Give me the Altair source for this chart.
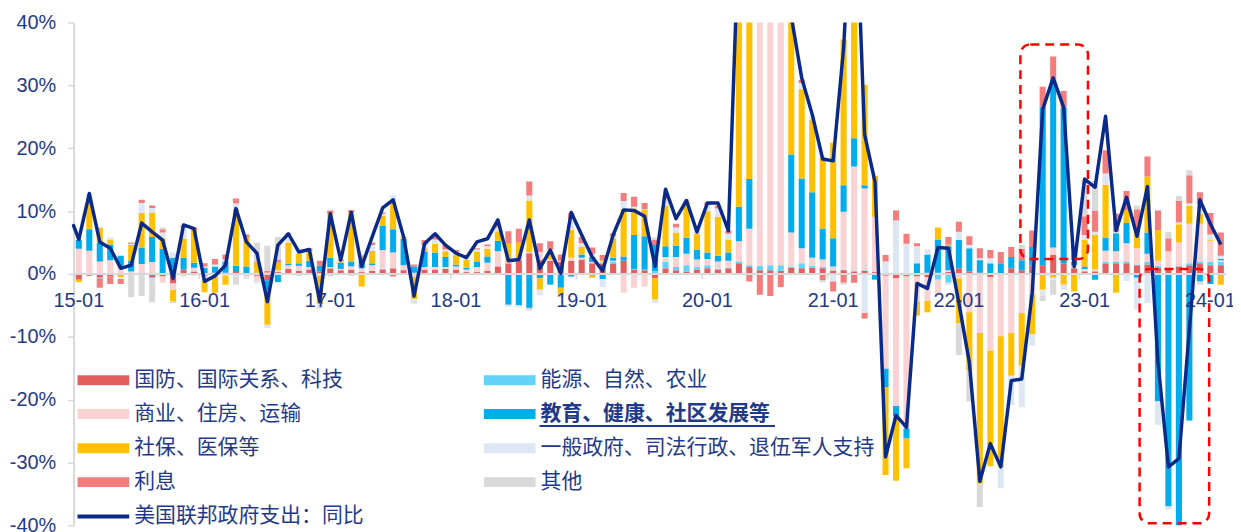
import altair as alt
import pandas as pd

# ---------------- data ----------------
months = [f"{y}-{m:02d}" for y in range(2015, 2025) for m in range(1, 13)][:110]

categories = ["国防、国际关系、科技", "能源、自然、农业", "商业、住房、运输", "教育、健康、社区发展等",
              "社保、医保等", "一般政府、司法行政、退伍军人支持", "利息", "其他"]
colors = ["#E35F5F", "#62D2F8", "#F9D3D3", "#00ACEC", "#FFC000", "#DDE7F4", "#F37C7C", "#D9D9D9"]

defense = [-0.9, -0.3, -0.5, -0.4, 0, 0.1, 0.2, -0.5, -0.4, -1.5,
           0.7, 0.4, -0.3, 0.2, 0.2, 0.3, 0.1, -0.3, -1.0, 0.3,
           0.8, 0.5, 0.7, 0.4, 0.9, 0.6, 0.7, 0.3, 0.5, 0.7,
           0.9, 0.6, 0.2, 0.7, 0.7, 0.8, 0.7, 0.3, 0.3, 0.5,
           1.2, 1.7, 2.2, 3.3, 2.2, 2.1, 1.9, 2.1, 2.3, 1.7,
           1.6, 1.6, 2.1, 0.7, 0.6, -0.7, 0.9, 0.6, 0.4, 0.7,
           0.9, 0.7, 0.9, 1.7, 1.1, 0.6, 0.6, 0.5, 1.0, 0.9,
           1.0, 0.9, 0.5, 0.6, 0.4, 0.5, 0.3, -0.3, -0.7, -0.4,
           -0.4, -0.5, 0.2, 0.3, 0.9, 0.4, 0.2, -0.5, 0.1, 0.9,
           0.6, 1.4, 1.4, 3.0, 1.7, 0.9, 0.4, 0.4, 1.6, 1.7,
           1.7, 1.4, 1.5, 1.0, 0.9, 1.2, 1.4, 1.7, 1.4, 1.4]
energy = [0, 0, -0.2, 0, 0, 0, 0, -0.2, 0, 0.1,
          0, 0, 0, 0, 0, 0, 0, 0, 0, 0,
          0, 0, 0, 0, 0, 0, 0, 0, 0, 0.1,
          0, 0, 0, 0, 0, 0, 0, 0, 0, 0,
          0, 0, 0, 0, 0, 0, 0, 0, 0, 0,
          0.2, 0.3, 0, 0.1, 0.1, 0.3, 1.0, 0.5, 1.0, 0.4,
          0.5, 0.1, 0.1, 0.3, 0.3, 0.7, 0.8, 0.9, 0.2, 0.8,
          0.3, 0.2, 0.1, 0.1, 0.1, 0.1, 0.1, 0, 0, 0,
          0.1, 0.2, -0.9, -1.4, 0, 0, 0, 0, 0, 0,
          0, 0, 0, 0, 0, 0.1, 0.1, 0.1, 0.3, 0.3,
          0.3, 0.1, 0.4, 0.3, 0.1, 0.1, 0.3, 0.3, 0.5, 0.5]
commerce = [4.0, 3.7, 2.0, 2.2, 1.1, 0.3, 1.4, 1.9, -1.0, -1.0,
            -0.4, 0.6, -0.8, -0.5, -0.3, -0.4, -0.6, -0.8, 0.2, 0.3,
            0.6, 0.8, 0.4, -0.3, 0.2, 0.2, 0.5, 0.6, 0.9, 3.0,
            2.5, 0.8, -0.5, 0.4, 0.4, 0.3, 0.5, 0.4, 0.8, 1.3,
            2.4, 0.2, 0.2, 0.2, 1.3, 0.2, 0.2, 0.5, 0.3, 0.2,
            0.2, 0.2, -3.0, -2.2, -2.0, 0.1, 0.8, 1.6, 1.8, 1.2,
            1.0, 1.2, 1.1, 3.2, 5.8, 120, 80, 50, 5.4, 2.4,
            1.3, 1.2, 0.6, 9.2, 16.6, 13.0, 8.7, -14.8, -20.3, -24.2,
            -4.0, -3.8, -2.2, 0.3, -0.7, -6.1, -9.4, -11.7, -9.9, -9.4,
            -6.2, -3.3, 0, 1.2, 0, 0.4, 0.3, 0.2, 1.8, 1.6,
            2.9, 2.6, 1.3, 0.8, 2.6, 3.7, 6.3, 6.0, 3.4, 0.3]
education = [1.4, 3.4, 3.0, 2.5, 1.8, 1.7, 2.6, 4.0, 4.0, 2.5,
             1.9, 0.8, 1.0, 1.0, 1.8, 1.0, 1.1, 0.2, -1.6, -1.3,
             0.2, 0.4, 1.0, 0.9, 1.5, 1.0, 0.8, 1.2, 0.3, 3.9,
             3.7, 4.2, 1.0, 2.4, 2.3, 1.6, 0.3, 0.3, 0.9, 1.0,
             1.7, -4.9, -5.0, -5.4, -0.7, -1.7, -2.2, -0.4, 0.5, 0.8,
             -0.8, 0.5, 0.7, 5.4, 5.3, 4.2, 1.7, 1.8, 2.6, 1.6,
             1.0, 0.9, 1.3, 5.5, 7.9, 3.0, 3.0, 3.0, 12.4, 11.1,
             10.4, 4.9, 4.5, 4.2, 4.5, 0.5, -0.9, -2.9, -1.6, -1.6,
             1.6, 2.9, 5.3, 3.8, 4.5, 3.7, 2.0, 1.7, 1.6, 1.8,
             1.6, 2.9, 25.2, 26.7, 24.8, 0.6, 0.4, -0.9, 2.1, 2.9,
             3.2, -0.6, 3.4, -20.3, -37.0, -42, -23.3, -1.2, -1.6, 0.2]
social = [-0.4, 4.6, 2.3, 0.8, -0.5, 2.5, 5.5, 3.8, 1.7, -1.8,
          3.0, 5.2, -1.8, -2.5, -1.4, 9.0, 4.6, 1.6, -5.5, 1.2,
          3.4, 1.5, 1.4, -4.5, 6.9, 0.2, 7.6, -2.0, 2.0, 1.6,
          4.4, 0.3, -3.5, 0.6, 1.4, 0.9, 1.5, 1.3, 1.5, 1.2,
          1.5, 2.9, 2.6, 8.2, -1.8, 1.2, -1.1, 4.4, 1.2, -0.6,
          0.2, 3.1, 7.5, 4.2, 4.2, -3.4, 6.5, 2.1, 5.9, 2.5,
          6.6, 6.2, 2.1, 40, 60, 30, 20, 15, 22.0, 14.2,
          11.6, 11.3, 15.2, 23.2, 47, 16.0, 6.5, -14.0, -10.3, -4.7,
          -2.2, -1.8, 1.9, 0.3, -7.1, -9.2, -24.0, -18.4, -20.8, -6.8,
          -8.4, -6.3, -2.5, -0.6, -1.7, -2.8, 4.2, 5.5, 8.4, -3.0,
          2.1, 3.0, 8.9, 4.9, 0, 2.9, 2.9, 1.6, 0.2, -1.7]
general = [0.3, 1.2, 0.2, 0.3, -0.3, 0.2, 1.6, 0.8, 0.9, 0.8,
           1.8, -0.3, 0.2, 0.3, 0.3, 0.9, -0.2, -0.4, -0.5, 0,
           1.3, 0.6, 0.2, -0.4, 0.1, 0.1, 0.1, 0.4, 0.9, 0.3,
           1.0, 0.2, -0.5, 0.5, 0.7, 0.3, 0.3, 0.3, 0.4, 0.4,
           0.6, -0.3, -0.3, 0.8, -0.9, 0.4, -0.4, 1.8, 0.6, 0.5,
           -1.3, 0.3, 1.3, 0.3, 0.1, -0.5, 1.0, 0.8, 0.3, 0.5,
           1.0, 1.3, 0.9, 2.0, 2.0, 2.0, 2.0, 2.0, 0.3, 1.0,
           0.5, 0.3, -1.2, 0, 0, -6.2, 0, 2.0, 8.5, 4.8,
           2.7, 0.8, 0, -0.4, 1.3, 0.5, 0.3, 0.8, -3.4, -4.7,
           -6.6, -1.8, -1.0, -0.3, -0.8, 0.2, 0.8, 0.5, 1.8, 0.2,
           -1.1, -5.0, -4.6, -3.7, -0.5, 0.3, 0.3, 1.5, 0.8, 0.5]
interest = [0, 0, -1.5, -1.2, -0.8, 0.2, 0.5, 0.4, 0.5, 0,
            0.3, 0.4, 0.5, 0.9, 0.8, 0.8, 0.5, 0.2, 0.3, 0.5,
            0.2, 0, 0.4, 0.8, 0.5, 0.2, 0.5, 0.3, 0.4, 0.2,
            -0.4, 0, 0.3, 0.8, 0.5, 0.7, 0.5, 0, 0.2, 0.3,
            0.5, 2.0, 2.2, 2.2, 1.4, 1.3, 1.0, 0.9, 1.0, 1.0,
            0.8, 0.5, 1.3, 1.6, 1.0, 0.8, 0.4, 0.6, 0, 0,
            0.4, 0.5, 0.5, 0.5, -1.2, -3.3, -3.5, -2.1, 0, 0.5,
            0, -1.0, -1.6, -1.4, -1.4, -0.9, 0, 1.0, 1.6, 1.6,
            0.5, 0, 0, 1.2, 1.6, 1.4, 1.6, 1.3, 1.8, 1.6,
            1.8, 2.6, 3.2, 3.7, 2.6, 1.0, 3.0, 3.4, 3.7, 2.9,
            3.0, 3.2, 3.2, 3.1, 2.1, 3.4, 4.5, 1.9, 3.4, 3.7]
other = [0, 0, 0, 0, 0, -3.7, -3.5, -3.8, 0.3, -0.3,
         0, 0, 0, 0, 0, -1.3, 0, 3.0, 4.0, 3.6,
         0, -0.3, 0, -0.3, -0.4, 0, -0.3, 0.3, 0, 0,
         0, 0, -0.2, 0, 0, 0, 0, 0, 0, 0,
         0, 0, 0, -0.4, 0, 0, 0, 0, 0, 0,
         0, 0, 0, 0, 0, 0.4, 0, 0, 0, 0,
         0, 0, 0, 0, 0, 0, 0, 0, 0, 0,
         0, -0.3, 0, -0.3, 0, 0, 0, 0, 0, 0,
         0, 0, 0, 0, -5.1, -5.0, -3.7, 0, 0, 0,
         0.6, 0, -0.8, -2.4, 0, 0.8, 5.8, 4.7, 0, 0,
         0, 0.6, 0, 0, 1.0, 0.8, 0.8, -0.5, 0, 0]
total_yoy = [5.5, 12.8, 5.1, 4.1, 0.9, 1.4, 8.1, 6.7, 5.4, -0.7,
             7.8, 7.2, -1.2, -0.3, 1.4, 10.4, 5.1, 3.3, -4.4, 4.6,
             6.4, 3.5, 3.9, -4.4, 9.6, 2.2, 9.8, 1.2, 5.9, 10.5,
             11.8, 5.9, -3.5, 4.8, 6.4, 4.6, 3.3, 2.6, 5.1, 5.6,
             8.6, 2.1, 2.3, 8.6, 0.9, 3.8, 0.1, 9.8, 6.2, 2.7,
             0.5, 6.2, 10.2, 10.1, 9.2, 1.2, 13.5, 8.8, 11.7, 6.7,
             11.3, 11.3, 6.9, 55, 110, 200, 120, 70, 41, 31.2,
             25.4, 18.3, 18.0, 36.0, 67, 22.2, 14.6, -29.1, -22.5, -24.4,
             -1.5, -2.3, 4.2, 4.1, -4.6, -14.1, -33, -27, -30.7, -17,
             -16.7, -3.0, 26.2, 31.2, 26.5, 1.2, 15.1, 13.8, 25.1, 6.9,
             12.2, 6.0, 13.9, -14, -30.7, -29.4, -8.8, 11.8, 8.0, 4.7]
prior_yoy = 7.7  # 2014-12, the line enters from the axis with this value
line_label = "美国联邦政府支出：同比"

# ---------------- tables ----------------
series = [defense, energy, commerce, education, social, general, interest, other]
rows = []
for k, (cat, vals) in enumerate(zip(categories, series)):
    for m, v in zip(months, vals):
        rows.append({"month": m, "cat": cat, "value": v / 100.0, "ord": k})
bar_df = pd.DataFrame(rows)
line_df = pd.DataFrame({"month": months, "yoy": [v / 100.0 for v in total_yoy]})
jan = [m for m in months if m.endswith("-01")]
jan_df = pd.DataFrame({"month": jan, "lab": [m[2:] for m in jan], "z": [0.0] * len(jan)})

NAVY = "#0A2A8A"
TXT = "#1F3A8A"
GRID = "#D9D9D9"
NUMFONT = "Liberation Sans"
CJK = "Noto Sans CJK SC"
W, H = 1160, 506

xscale = alt.Scale(domain=months, paddingInner=0.42, paddingOuter=0.21)
yscale = alt.Scale(domain=[-0.4, 0.4], nice=False, zero=False)


def xenc():
    return alt.X("month:N", sort=months, scale=xscale, axis=None)


yaxis = alt.Axis(
    title=None, values=[-0.4, -0.3, -0.2, -0.1, 0, 0.1, 0.2, 0.3, 0.4],
    labelExpr="(datum.value < 0 ? '-' : '') + format(abs(datum.value) * 100, '.0f') + '%'",
    labelFont=NUMFONT, labelFontSize=20, labelColor=TXT, labelPadding=12,
    domainColor=GRID, domainWidth=2, tickColor=GRID, tickSize=6, tickWidth=1.5, grid=False,
)

bars = alt.Chart(bar_df).mark_bar(clip=True).encode(
    x=xenc(),
    y=alt.Y("value:Q", stack="zero", scale=yscale, axis=yaxis),
    color=alt.Color("cat:N", scale=alt.Scale(domain=categories, range=colors), legend=None),
    order=alt.Order("ord:Q", sort="ascending"),
)

zero_rule = alt.Chart(jan_df).mark_rule(color=GRID, strokeWidth=2).encode(
    y=alt.Y("z:Q", scale=yscale)
)

step = W / len(months)
year_ticks = alt.Chart(jan_df).mark_rule(color=GRID, strokeWidth=1.5, xOffset=-step / 2).encode(
    x=xenc(), y=alt.Y("z:Q", scale=yscale), y2=alt.datum(-0.008)
)

year_labels = alt.Chart(jan_df).mark_text(
    font=NUMFONT, fontSize=20, color=TXT, baseline="alphabetic", align="center", dy=33
).encode(x=xenc(), y=alt.Y("z:Q", scale=yscale), text="lab:N")

line = alt.Chart(line_df).mark_line(clip=True, color=NAVY, strokeWidth=3.5, strokeJoin="round").encode(
    x=xenc(), y=alt.Y("yoy:Q", scale=yscale)
)

one = pd.DataFrame({"k": [0]})

# segment from the previous month (at the axis) to the first month
lead_in = alt.Chart(one).mark_rule(color=NAVY, strokeWidth=3.5, strokeCap="round").encode(
    x=alt.value(0), x2=alt.value(step / 2),
    y=alt.datum(prior_yoy / 100.0), y2=alt.datum(total_yoy[0] / 100.0),
)


def dashed_box(x1, x2, y1, y2):
    return alt.Chart(one).mark_rect(
        fillOpacity=0, stroke="#FF0000", strokeWidth=2.5, strokeDash=[9, 6], cornerRadius=10
    ).encode(x=alt.value(x1), x2=alt.value(x2), y=alt.value(y1), y2=alt.value(y2))


boxes = [dashed_box(953, 1021, 22, 238), dashed_box(1073, 1143, 248, 504)]

# ---------------- legend (drawn inside the plot, two columns) ----------------
legend_layers = []
row_y = [360, 394, 428.5, 462.5]
col_x = [4, 413]
for k, cat in enumerate(categories):
    r, c = k // 2, k % 2
    px, py = col_x[c], row_y[r]
    legend_layers.append(
        alt.Chart(one).mark_rect(color=colors[k]).encode(
            x=alt.value(px), x2=alt.value(px + 52), y=alt.value(py - 5), y2=alt.value(py + 5)
        )
    )
    bold = cat.startswith("教育")
    legend_layers.append(
        alt.Chart(one).mark_text(
            text=cat, font=CJK, fontSize=21, color=TXT, align="left", baseline="middle",
            fontWeight="bold" if bold else "normal"
        ).encode(x=alt.value(px + 57), y=alt.value(py))
    )
    if bold:
        legend_layers.append(
            alt.Chart(one).mark_rule(color=TXT, strokeWidth=2).encode(
                x=alt.value(px + 56), x2=alt.value(px + 293), y=alt.value(py + 12)
            )
        )
ly = 497
legend_layers.append(
    alt.Chart(one).mark_rule(color=NAVY, strokeWidth=4).encode(
        x=alt.value(4), x2=alt.value(56), y=alt.value(ly)
    )
)
legend_layers.append(
    alt.Chart(one).mark_text(
        text=line_label, font=CJK, fontSize=21, color=TXT, align="left", baseline="middle"
    ).encode(x=alt.value(61), y=alt.value(ly))
)

chart = alt.layer(
    bars, zero_rule, year_ticks, year_labels, line, lead_in, *boxes, *legend_layers
).properties(
    width=W, height=H,
    autosize=alt.AutoSizeParams(type="none"),
    padding={"left": 66, "top": 13, "right": 7, "bottom": 5},
).configure_view(strokeWidth=0)

chart.save("out.html", embed_options={"renderer": "svg", "actions": False})
